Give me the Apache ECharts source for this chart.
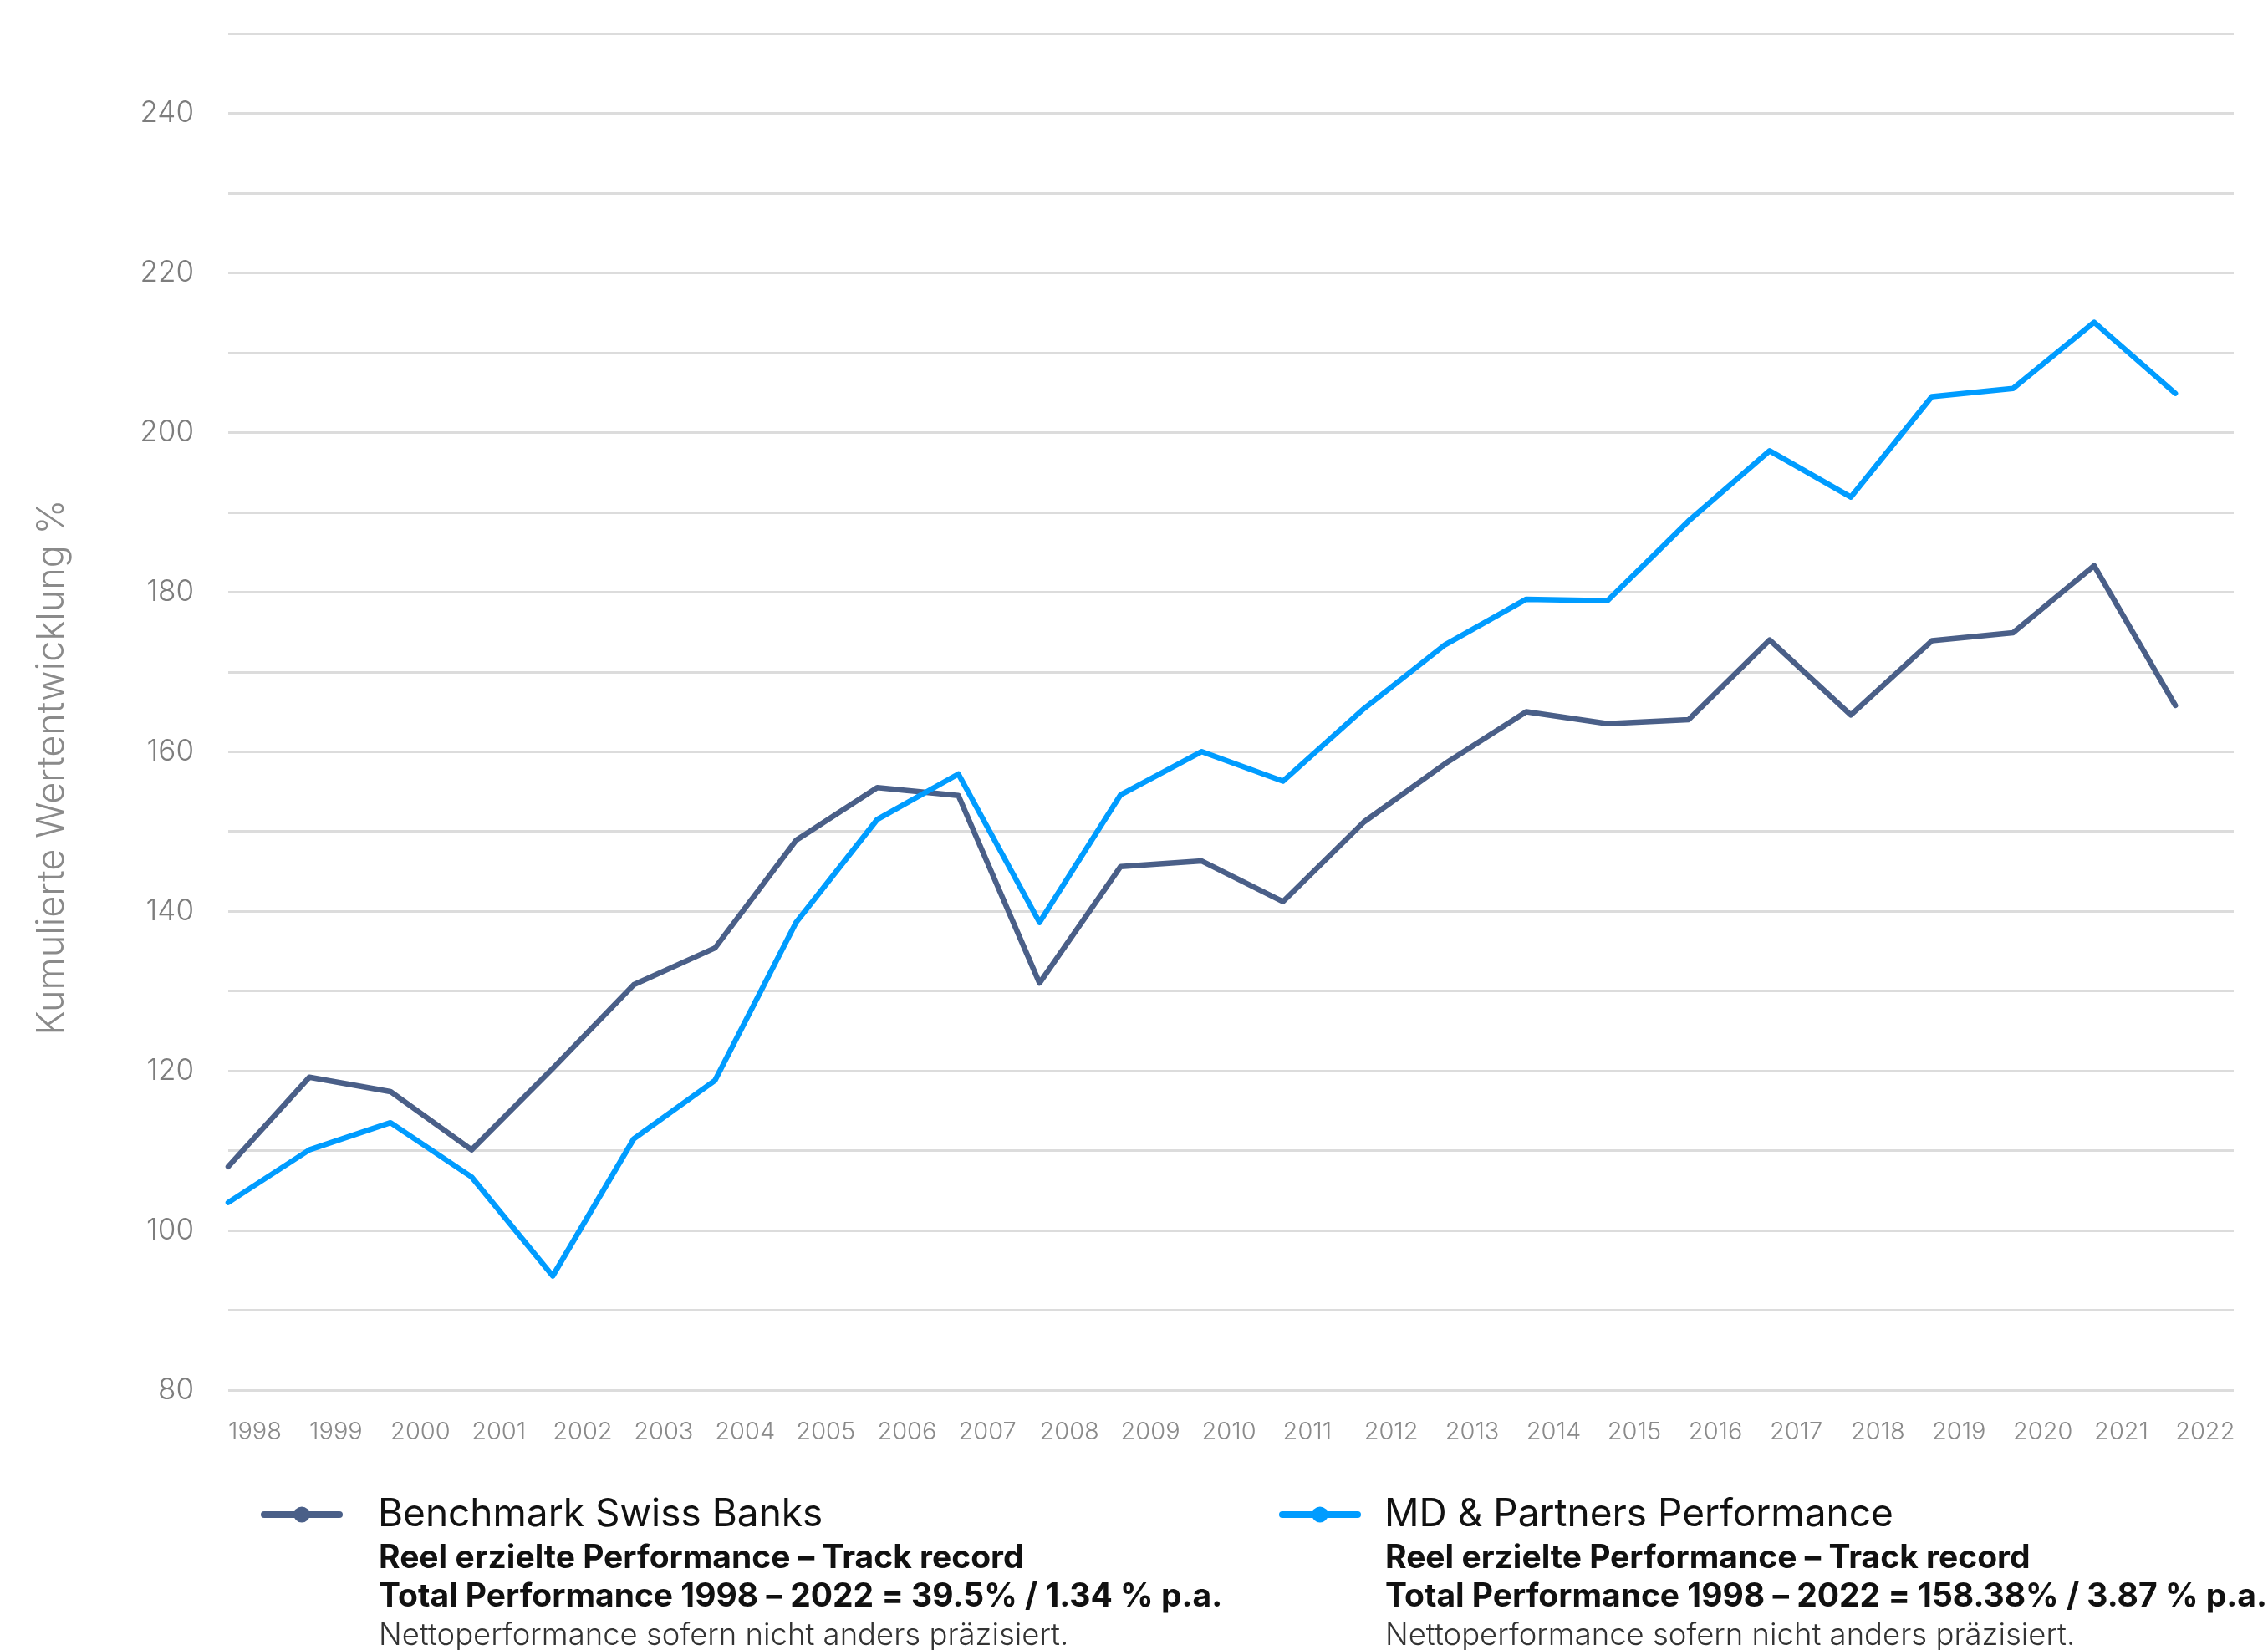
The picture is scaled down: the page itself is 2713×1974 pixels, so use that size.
<!DOCTYPE html>
<html>
<head>
<meta charset="utf-8">
<title>Kumulierte Wertentwicklung</title>
<script src="https://cdn.jsdelivr.net/npm/echarts@6/dist/echarts.min.js"></script>
<style>
	html, body { margin: 0; padding: 0; background: #fff; }
	#main { width: 2713px; height: 1974px; }
</style>
</head>
<body>
<div id="main"></div>
<script>
// years on the x axis
var years = [1998, 1999, 2000, 2001, 2002, 2003, 2004, 2005, 2006, 2007, 2008, 2009,
	2010, 2011, 2012, 2013, 2014, 2015, 2016, 2017, 2018, 2019, 2020, 2021, 2022];

// Benchmark Swiss Banks
var benchmarkValues = [108.0, 119.2, 117.4, 110.1, 120.3, 130.8, 135.4, 148.9, 155.5, 154.5,
	131.0, 145.6, 146.3, 141.2, 151.2, 158.5, 165.0, 163.5, 164.0, 174.0,
	164.6, 173.9, 174.9, 183.3, 165.8];

// MD & Partners Performance
var mdValues = [103.5, 110.1, 113.5, 106.7, 94.3, 111.5, 118.8, 138.6, 151.5, 157.2,
	138.6, 154.6, 160.0, 156.3, 165.4, 173.4, 179.1, 178.9, 188.9, 197.7,
	191.9, 204.5, 205.5, 213.8, 204.9];

var yTicks = [80, 100, 120, 140, 160, 180, 200, 220, 240];

var seriesNames = ['Benchmark Swiss Banks', 'MD & Partners Performance'];
var legendLines = [
	['Reel erzielte Performance \u2013 Track record',
		'Total Performance 1998 \u2013 2022 = 39.5% / 1.34 % p.a.',
		'Nettoperformance sofern nicht anders pr\u00e4zisiert.'],
	['Reel erzielte Performance \u2013 Track record',
		'Total Performance 1998 \u2013 2022 = 158.38% / 3.87 % p.a.',
		'Nettoperformance sofern nicht anders pr\u00e4zisiert.']
];

var colDark = '#4a5f88';
var colBlue = '#009cff';
var fontName = 'Inter, "Liberation Sans", sans-serif';

function pairs(vals) {
	var out = [];
	for (var i = 0; i < years.length; i++) {
		out.push([years[i], vals[i]]);
	}
	return out;
}

var myChart = echarts.init(document.getElementById('main'), null, { renderer: 'canvas' });

// text under the legend titles
var subTexts = [];
var textX = [453, 1657];
var textY = [1864, 1910, 1957];
for (var c = 0; c < 2; c++) {
	for (var j = 0; j < 3; j++) {
		subTexts.push({
			type: 'text',
			x: textX[c],
			y: textY[j],
			style: {
				text: legendLines[c][j],
				fill: j < 2 ? '#111' : '#333',
				font: (j < 2 ? '700 39px ' : '300 36.5px ') + fontName,
				align: 'left',
				verticalAlign: 'middle'
			}
		});
	}
}

// axis name (sits a bit below the middle of the axis)
subTexts.push({
	type: 'text',
	x: 62,
	y: 918,
	rotation: Math.PI / 2,
	style: {
		text: 'Kumulierte Wertentwicklung %',
		fill: '#8a8a8a',
		font: '300 45px ' + fontName,
		align: 'center',
		verticalAlign: 'middle'
	}
});

function makeLegend(name, left, gap) {
	return {
		data: [name],
		left: left,
		top: 1811 - 22,
		padding: 0,
		itemWidth: 90,
		itemHeight: 24,
		itemGap: 0,
		lineStyle: { width: 8, cap: 'round' },
		textStyle: {
			fontFamily: fontName,
			fontSize: 46,
			lineHeight: 44,
			color: '#111',
			padding: [0, 0, 0, gap]
		}
	};
}

var option = {
	backgroundColor: '#fff',
	animation: false,
	grid: {
		left: 273,
		right: 41,
		top: 40,
		bottom: 311
	},
	legend: [
		makeLegend(seriesNames[0], 312, 41),
		makeLegend(seriesNames[1], 1530, 27)
	],
	xAxis: {
		type: 'value',
		min: 1998,
		max: 2022.72,
		interval: 1,
		axisLine: { show: false },
		axisTick: { show: false },
		splitLine: { show: false },
		axisLabel: {
			showMaxLabel: false,
			align: 'left',
			margin: 36,
			color: '#8a8a8a',
			fontFamily: fontName,
			fontWeight: 300,
			fontSize: 29,
			formatter: function(v) {
				return Math.abs(v - Math.round(v)) < 1e-6 ? String(Math.round(v)) : '';
			}
		}
	},
	yAxis: {
		type: 'value',
		min: 80,
		max: 250,
		interval: 10,
		axisLine: { show: false },
		axisTick: { show: false },
		splitLine: {
			lineStyle: { color: '#dcdcdc', width: 3 }
		},
		axisLabel: {
			margin: 41,
			color: '#7d7d7d',
			fontFamily: fontName,
			fontWeight: 300,
			fontSize: 35,
			formatter: function(v) {
				return yTicks.indexOf(v) >= 0 ? String(v) : '';
			}
		}
	},
	graphic: subTexts,
	series: [{
		name: seriesNames[0],
		type: 'line',
		data: pairs(benchmarkValues),
		symbol: 'circle',
		showSymbol: false,
		color: colDark,
		lineStyle: { color: colDark, width: 6.5, cap: 'round', join: 'round' },
		z: 2
	}, {
		name: seriesNames[1],
		type: 'line',
		data: pairs(mdValues),
		symbol: 'circle',
		showSymbol: false,
		color: colBlue,
		lineStyle: { color: colBlue, width: 6.5, cap: 'round', join: 'round' },
		z: 3
	}]
};

myChart.setOption(option);

window.addEventListener('resize', function() {
	myChart.resize();
});
</script>
</body>
</html>
